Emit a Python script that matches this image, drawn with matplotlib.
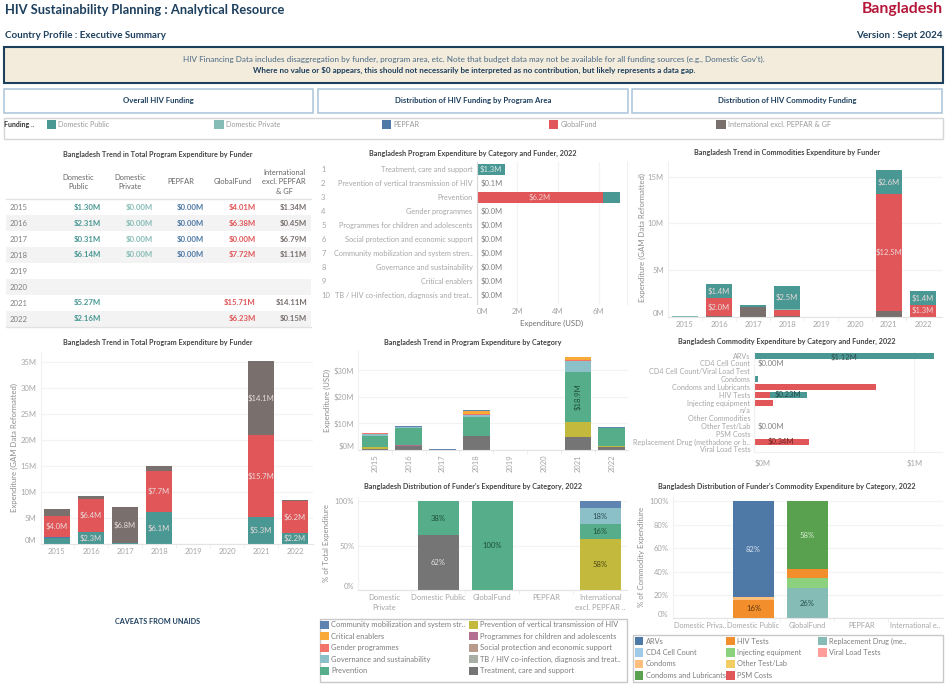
import matplotlib as mpl
mpl.use('Agg')
import matplotlib.pyplot as plt
from matplotlib.patches import Rectangle
import numpy as np

plt.rcParams['font.family'] = ['Lato', 'DejaVu Sans']

W, H = 948, 689

# funder colours
C_PUBLIC = "#499894"
C_PRIVATE = "#86BCB6"
C_PEPFAR = "#4E79A7"
C_GF = "#E15759"
C_INTL = "#79706E"

NAVY = "#1d3f5e"
TICK = "#a6a6a6"
GRID = "#f3f3f3"
LABEL = "#8c8c8c"
FS = 5.5  # tick and mark labels

YEARS = ["2015", "2016", "2017", "2018", "2019", "2020", "2021", "2022"]

# total program expenditure table (empty string = no value)
TABLE_PUBLIC = ["$1.30M", "$2.31M", "$0.31M", "$6.14M", "", "", "$5.27M", "$2.16M"]
TABLE_PRIVATE = ["$0.00M", "$0.00M", "$0.00M", "$0.00M", "", "", "", ""]
TABLE_PEPFAR = ["$0.00M", "$0.00M", "$0.00M", "$0.00M", "", "", "", ""]
TABLE_GF = ["$4.01M", "$6.38M", "$0.00M", "$7.72M", "", "", "$15.71M", "$6.23M"]
TABLE_INTL = ["$1.34M", "$0.45M", "$6.79M", "$1.11M", "", "", "$14.11M", "$0.15M"]

# total program expenditure chart, $M
PROG_PUBLIC = [1.30, 2.31, 0.31, 6.14, 0, 0, 5.27, 2.16]
PROG_PEPFAR = [0.15, 0.05, 0, 0.12, 0, 0, 0, 0]
PROG_GF = [4.01, 6.38, 0, 7.72, 0, 0, 15.71, 6.23]
PROG_INTL = [1.34, 0.45, 6.79, 1.11, 0, 0, 14.11, 0.15]

# commodities expenditure by funder, $M
COMM_INTL = [0, 0.05, 1.03, 0.05, 0, 0, 0.6, 0]
COMM_GF = [0, 2.0, 0, 0.65, 0, 0, 12.5, 1.3]
COMM_PRIVATE = [0.08, 0, 0, 0.1, 0, 0, 0, 0]
COMM_PUBLIC = [0, 1.4, 0.22, 2.5, 0, 0, 2.6, 1.4]

# program expenditure by category and funder, 2022
CATEGORIES = ["Treatment, care and support", "Prevention of vertical transmission of HIV", "Prevention",
              "Gender programmes", "Programmes for children and adolescents",
              "Social protection and economic support", "Community mobilization and system stren..",
              "Governance and sustainability", "Critical enablers", "TB / HIV co-infection, diagnosis and treat.."]
CAT_GF = [0.03, 0, 6.23, 0, 0, 0, 0, 0, 0, 0]
CAT_PUBLIC = [1.36, 0, 0.83, 0, 0, 0, 0, 0, 0, 0]
CAT_INTL = [0, 0.06, 0, 0.02, 0.02, 0.02, 0.02, 0.02, 0.02, 0.02]
CAT_LABELS = ["$1.3M", "$0.1M", "$6.2M", "$0.0M", "$0.0M", "$0.0M", "$0.0M", "$0.0M", "$0.0M", "$0.0M"]

# program expenditure trend by category, $M, stacked bottom to top
TREND_TREATMENT = [0.5, 1.5, 0.05, 5.3, 0, 0, 4.9, 1.1]
TREND_CHILDREN = [0, 0.4, 0, 0, 0, 0, 0, 0]
TREND_VERTICAL = [0.6, 0, 0, 0, 0, 0, 5.66, 0.35]
TREND_PREVENTION = [4.1, 6.5, 0, 7.2, 0, 0, 18.9, 6.8]
TREND_GOVERNANCE = [0.8, 0.25, 0, 0.75, 0, 0, 4.0, 0]
TREND_GENDER = [0.3, 0, 0, 0.25, 0, 0, 0.4, 0]
TREND_CRITICAL = [0, 0, 0, 1.25, 0, 0, 1.25, 0]
TREND_COMMUNITY = [0.25, 0.4, 0.4, 0.35, 0, 0, 0, 0.4]

C_COMMUNITY = "#5f84b1"
C_CRITICAL = "#f8a937"
C_GENDER = "#f1756b"
C_GOVERNANCE = "#8cc0c9"
C_PREVENTION = "#55ad89"
C_VERTICAL = "#c3b93c"
C_CHILDREN = "#b46f91"
C_SOCIAL = "#b89b8b"
C_TB = "#a8b0a5"
C_TREATMENT = "#757575"

# commodity expenditure by category, 2022, $M
COMMODITIES = ["ARVs", "CD4 Cell Count", "CD4 Cell Count/Viral Load Test", "Condoms", "Condoms and Lubricants",
               "HIV Tests", "Injecting equipment", "n/a", "Other Commodities", "Other Test/Lab", "PSM Costs",
               "Replacement Drug (methadone or b..", "Viral Load Tests"]
COMMOD_GF = [0, 0, 0, 0, 0.76, 0.096, 0.117, 0, 0, 0, 0, 0.34, 0]
COMMOD_PUBLIC = [1.12, 0, 0, 0.023, 0, 0.23, 0, 0, 0, 0, 0, 0, 0]
COMMOD_THIN = [0, 0.004, 0, 0, 0, 0, 0, 0, 0, 0.004, 0.004, 0, 0.004]

# funder distribution of program expenditure, %
DIST_FUNDERS = ["Domestic\nPrivate", "Domestic Public", "GlobalFund", "PEPFAR", "International\nexcl. PEPFAR .."]
DIST_TREATMENT = [0, 62, 0, 0, 0]
DIST_VERTICAL = [0, 0, 0, 0, 57.5]
DIST_PREVENTION = [0, 38, 100, 0, 16.6]
DIST_GOVERNANCE = [0, 0, 0, 0, 18]
DIST_COMMUNITY = [0, 0, 0, 0, 7.9]

# funder distribution of commodity expenditure, %
CDIST_FUNDERS = ["Domestic Priva..", "Domestic Public", "GlobalFund", "PEPFAR", "International e.."]
CDIST_REPLACE = [0, 0, 26, 0, 0]
CDIST_INJECT = [0, 0, 8.5, 0, 0]
CDIST_HIV = [0, 16, 7.7, 0, 0]
CDIST_CONDOMS = [0, 2, 0, 0, 0]
CDIST_LUB = [0, 0, 57.8, 0, 0]
CDIST_ARV = [0, 82, 0, 0, 0]

FUNDER_LEGEND = ["Domestic Public", "Domestic Private", "PEPFAR", "GlobalFund", "International excl. PEPFAR & GF"]
FUNDER_COLORS = [C_PUBLIC, C_PRIVATE, C_PEPFAR, C_GF, C_INTL]

fig = plt.figure(figsize=(W / 100, H / 100), dpi=100, facecolor="white")


def px_ax(left, top, right, bottom):
    ax = fig.add_axes([left / W, 1 - bottom / H, (right - left) / W, (bottom - top) / H])
    for s in ["top", "right"]:
        ax.spines[s].set_visible(False)
    ax.spines["left"].set_color("#f0f0f0")
    ax.spines["bottom"].set_color("#e4e4e4")
    ax.set_axisbelow(True)
    ax.tick_params(axis="both", length=0, labelsize=FS, labelcolor=TICK, pad=3)
    return ax


def stack(ax, series, colors, width, labels=None):
    # labels: minimum value that gets a text inside the segment
    bottom = np.zeros(len(series[0]))
    for vals, col in zip(series, colors):
        vals = np.array(vals, dtype=float)
        ax.bar(np.arange(len(vals)), vals, width, bottom=bottom, color=col)
        if labels is not None:
            for i, v in enumerate(vals):
                if v >= labels:
                    ax.text(i, bottom[i] + v / 2, f"${v:.1f}M", ha="center", va="center",
                            color="#ead9d9", fontsize=FS)
        bottom += vals


def cat_axis(ax, names):
    n = len(names)
    ax.set_xticks(range(n))
    ax.set_xticklabels(names, linespacing=1.5)
    ax.set_xticks(np.arange(0.5, n - 1), minor=True)
    ax.tick_params(axis="x", which="minor", length=3, color="#ececec")


def val_axis(ax, ticks, labels):
    ax.set_yticks(ticks)
    ax.set_yticklabels(labels)
    ax.get_yticklabels()[0].set_va("bottom")
    ax.grid(axis="y", color=GRID, linewidth=0.9)


# bottom left, total program expenditure
ax = px_ax(40.7, 351.7, 313, 544.3)
stack(ax, [PROG_PUBLIC, PROG_PEPFAR, PROG_GF, PROG_INTL], [C_PUBLIC, C_PEPFAR, C_GF, C_INTL], 0.765, labels=2.0)
ax.set_xlim(-0.48, 7.53)
ax.set_ylim(0, 36.9)
cat_axis(ax, YEARS)
val_axis(ax, [0, 5, 10, 15, 20, 25, 30, 35], ["0M", "5M", "10M", "15M", "20M", "25M", "30M", "35M"])

# top right, commodities by funder
ax = px_ax(668, 161.7, 942, 316.7)
stack(ax, [COMM_INTL, COMM_GF, COMM_PRIVATE, COMM_PUBLIC], [C_INTL, C_GF, C_PRIVATE, C_PUBLIC], 0.765, labels=1.2)
ax.set_xlim(-0.5, 7.56)
ax.set_ylim(0, 16.6)
cat_axis(ax, YEARS)
val_axis(ax, [0, 5, 10, 15], ["0M", "5M", "10M", "15M"])

# top middle, program expenditure by category
ax = px_ax(476.7, 161.7, 627.3, 304.3)
rows = np.arange(len(CATEGORIES))
ax.barh(rows, CAT_GF, 0.79, color=C_GF)
ax.barh(rows, CAT_PUBLIC, 0.79, left=CAT_GF, color=C_PUBLIC)
ax.barh(rows, CAT_INTL, 0.79, color=C_INTL)
for i, lab in enumerate(CAT_LABELS):
    if i == 0:
        ax.text(0.7, i, lab, ha="center", va="center", color="#d8e8e6", fontsize=FS)
    elif i == 2:
        ax.text(3.1, i, lab, ha="center", va="center", color="#f0c8c8", fontsize=FS)
    else:
        ax.text(0.17, i, lab, ha="left", va="center", color="#808080", fontsize=FS)
ax.set_xlim(0, 7.41)
ax.set_ylim(9.64, -0.54)
ax.set_yticks(rows)
ax.set_yticklabels(CATEGORIES, fontsize=5.3)
ax.set_xticks([0, 2, 4, 6])
ax.set_xticklabels(["0M", "2M", "4M", "6M"])
ax.get_xticklabels()[0].set_ha("left")
ax.grid(axis="x", color=GRID, linewidth=0.9)
ax.spines["bottom"].set_visible(False)
ax.spines["left"].set_color("#d8d8d8")
ax.spines["right"].set_visible(True)
ax.spines["right"].set_color("#f0f0f0")
# row numbers sit left of the category names
for i in rows:
    ax.annotate(str(i + 1), (0, i), xycoords=("axes fraction", "data"), xytext=(-112, 0),
                textcoords="offset points", ha="left", va="center", fontsize=FS, color=TICK)

# middle, trend by category
ax = px_ax(358.3, 351, 628.3, 450)
trend = [TREND_TREATMENT, TREND_CHILDREN, TREND_VERTICAL, TREND_PREVENTION, TREND_GOVERNANCE,
         TREND_GENDER, TREND_CRITICAL, TREND_COMMUNITY]
trend_colors = [C_TREATMENT, C_CHILDREN, C_VERTICAL, C_PREVENTION, C_GOVERNANCE, C_GENDER, C_CRITICAL, C_COMMUNITY]
stack(ax, trend, trend_colors, 0.79)
ax.set_xlim(-0.49, 7.49)
ax.set_ylim(0, 37.3)
cat_axis(ax, YEARS)
ax.tick_params(axis="x", which="major", labelrotation=90)
val_axis(ax, [0, 10, 20, 30], ["$0M", "$10M", "$20M", "$30M"])
ax.text(6, 20.1, "$18.9M", rotation=90, ha="center", va="center", color="#1f4f3c", fontsize=FS)

# right middle, commodities by category
ax = px_ax(754.3, 351.7, 941.7, 452.3)
rows = np.arange(len(COMMODITIES))
ax.barh(rows, COMMOD_GF, 0.77, color=C_GF)
ax.barh(rows, COMMOD_PUBLIC, 0.77, left=COMMOD_GF, color=C_PUBLIC)
ax.barh(rows, COMMOD_THIN, 0.77, color=C_INTL)
ax.text(0.56, 0.22, "$1.12M", ha="center", va="center", color="#33504e", fontsize=FS)
ax.text(0.21, 5, "$0.23M", ha="center", va="center", color="#214a47", fontsize=FS)
ax.text(0.165, 11, "$0.34M", ha="center", va="center", color="#6e2526", fontsize=FS)
ax.text(0.02, 1, "$0.00M", ha="left", va="center", color="#808080", fontsize=FS)
ax.text(0.02, 9, "$0.00M", ha="left", va="center", color="#808080", fontsize=FS)
ax.set_xlim(0, 1.17)
ax.set_ylim(12.38, -0.51)
ax.set_yticks(rows)
ax.set_yticklabels(COMMODITIES, fontsize=5.2)
ax.set_xticks([0, 1])
ax.set_xticklabels(["$0M", "$1M"])
ax.get_xticklabels()[0].set_ha("left")
ax.tick_params(axis="x", pad=5)
ax.grid(axis="x", color=GRID, linewidth=0.9)
ax.spines["bottom"].set_color("#f0f0f0")

# bottom middle, funder distribution
ax = px_ax(358.3, 496.7, 627.3, 590.3)
stack(ax, [DIST_TREATMENT, DIST_VERTICAL, DIST_PREVENTION, DIST_GOVERNANCE, DIST_COMMUNITY],
      [C_TREATMENT, C_VERTICAL, C_PREVENTION, C_GOVERNANCE, C_COMMUNITY], 0.76)
ax.set_xlim(-0.48, 4.5)
ax.set_ylim(0, 105)
cat_axis(ax, DIST_FUNDERS)
val_axis(ax, [0, 50, 100], ["0%", "50%", "100%"])
ax.text(1, 31, "62%", ha="center", va="center", color="#e0e0e0", fontsize=FS)
ax.text(1, 81, "38%", ha="center", va="center", color="#1f4f3c", fontsize=FS)
ax.text(2, 50, "100%", ha="center", va="center", color="#1f4f3c", fontsize=FS)
ax.text(4, 29, "58%", ha="center", va="center", color="#4f4a16", fontsize=FS)
ax.text(4, 66, "16%", ha="center", va="center", color="#1f4f3c", fontsize=FS)
ax.text(4, 83, "18%", ha="center", va="center", color="#2f5056", fontsize=FS)

# bottom right, funder commodity distribution
ax = px_ax(672.7, 496.7, 942.7, 618.3)
stack(ax, [CDIST_REPLACE, CDIST_INJECT, CDIST_HIV, CDIST_CONDOMS, CDIST_LUB, CDIST_ARV],
      [C_PRIVATE, "#8CD17D", "#F28E2B", "#FFBE7D", "#59A14F", C_PEPFAR], 0.76)
ax.set_xlim(-0.5, 4.51)
ax.set_ylim(0, 104)
cat_axis(ax, CDIST_FUNDERS)
for lab in ax.get_xticklabels():
    lab.set_fontsize(5.3)
val_axis(ax, [0, 20, 40, 60, 80, 100], ["0%", "20%", "40%", "60%", "80%", "100%"])
ax.text(1, 59, "82%", ha="center", va="center", color="#d6deea", fontsize=FS)
ax.text(1, 8, "16%", ha="center", va="center", color="#5e3410", fontsize=FS)
ax.text(2, 13, "26%", ha="center", va="center", color="#26504c", fontsize=FS)
ax.text(2, 71, "58%", ha="center", va="center", color="#d8ecd4", fontsize=FS)

# overlay in pixel coordinates for header, table, titles, legends
ov = fig.add_axes([0, 0, 1, 1], zorder=10)
ov.set_xlim(0, W)
ov.set_ylim(H, 0)
ov.axis("off")
ov.patch.set_alpha(0)


def box(x0, y0, x1, y1, face="white", edge="#d0d0d0", lw=1.0, z=1):
    ov.add_patch(Rectangle((x0, y0), x1 - x0, y1 - y0, facecolor=face, edgecolor=edge, linewidth=lw, zorder=z))


def txt(x, y, s, size=6.5, color="#555555", ha="left", weight="normal", **kw):
    ov.text(x, y, s, fontsize=size, color=color, ha=ha, va="center", fontweight=weight, zorder=5, **kw)


txt(5, 10, "HIV Sustainability Planning : Analytical Resource", 9.3, NAVY, weight="bold")
txt(943, 9, "Bangladesh", 11.3, "#b5173a", ha="right", weight="bold")
txt(5, 35, "Country Profile : Executive Summary", 7.0, NAVY, weight="bold")
txt(943, 35, "Version : Sept 2024", 7.1, NAVY, ha="right", weight="bold")

box(4, 47, 943, 83, face="#f3ecdc", edge=NAVY, lw=1.5)
txt(474, 59.5, "HIV Financing Data includes disaggregation by funder, program area, etc. Note that budget data may not be "
    "available for all funding sources (e.g., Domestic Gov't).", 5.85, "#4a6a84", ha="center")
txt(474, 70.5, "Where no value or $0 appears, this should not necessarily be interpreted as no contribution, but likely "
    "represents a data gap.", 5.75, NAVY, ha="center", weight="bold")

for x0, x1, s in [(4, 313, "Overall HIV Funding"), (318, 628, "Distribution of HIV Funding by Program Area"),
                  (632, 942, "Distribution of HIV Commodity Funding")]:
    box(x0, 89, x1, 113, edge="#a9c4da", lw=1.1)
    txt((x0 + x1) / 2, 101, s, 5.6, NAVY, ha="center", weight="bold")

box(4, 118, 943, 139, edge="#d6d6d6", lw=1.0)
txt(4, 124.5, "Funding ..", 5.0, "#333333", weight="bold")
for i, (name, col) in enumerate(zip(FUNDER_LEGEND, FUNDER_COLORS)):
    x = 47 + i * 167.3
    box(x, 120, x + 9.5, 129, face=col, edge=col, lw=0)
    txt(x + 11.5, 124.5, name, 5.2, "#9a9a9a")

# chart titles
for x, y, s in [(158, 155, "Bangladesh Trend in Total Program Expenditure by Funder"),
                (473, 153, "Bangladesh Program Expenditure by Category and Funder, 2022"),
                (787, 153, "Bangladesh Trend in Commodities Expenditure by Funder"),
                (158, 342, "Bangladesh Trend in Total Program Expenditure by Funder"),
                (473, 342, "Bangladesh Trend in Program Expenditure by Category"),
                (787, 341, "Bangladesh Commodity Expenditure by Category and Funder, 2022"),
                (473, 486, "Bangladesh Distribution of Funder's Expenditure by Category, 2022"),
                (787, 486, "Bangladesh Distribution of Funder's Commodity Expenditure by Category, 2022")]:
    txt(x, y, s, 5.2, "#444444", ha="center", weight="bold")

# axis titles
for x, y, s in [(14, 447, "Expenditure (GAM Data Reformatted)"), (642, 238, "Expenditure (GAM Data Reformatted)"),
                (327, 400, "Expenditure (USD)"), (327, 543, "% of Total Expenditure"),
                (642, 557, "% of Commodity Expenditure")]:
    ov.text(x, y, s, fontsize=5.6, color=LABEL, rotation=90, ha="center", va="center", zorder=5)
txt(552, 323.7, "Expenditure (USD)", 5.6, "#707070", ha="center")

# table
rows_top = 199.3
row_h = 15.9
for i in range(8):
    if i % 2 == 1:
        ov.add_patch(Rectangle((6, rows_top + i * row_h), 305, row_h, facecolor="#f3f3f3", edgecolor="none", zorder=1))
ov.plot([6, 311], [rows_top, rows_top], color="#e2e2e2", linewidth=1, zorder=2)
ov.plot([6, 311], [rows_top + 8 * row_h] * 2, color="#e2e2e2", linewidth=1, zorder=2)
for x, s in [(78.3, "Domestic\nPublic"), (130, "Domestic\nPrivate"), (181.3, "PEPFAR"), (232.3, "GlobalFund"),
             (284, "International\nexcl. PEPFAR\n& GF")]:
    ov.text(x, 182, s, fontsize=5.4, color="#666666", ha="center", va="center", linespacing=1.45, zorder=5)
cols = [(101, TABLE_PUBLIC, C_PUBLIC), (152.7, TABLE_PRIVATE, C_PRIVATE), (204, TABLE_PEPFAR, C_PEPFAR),
        (255.7, TABLE_GF, C_GF), (307.3, TABLE_INTL, C_INTL)]
for i, year in enumerate(YEARS):
    y = rows_top + (i + 0.5) * row_h
    txt(10, y + 0.5, year, 5.6, "#808080")
    for x, vals, col in cols:
        if vals[i]:
            txt(x, y, vals[i], 5.6, col, ha="right", weight="bold")

txt(158, 621, "CAVEATS FROM UNAIDS", 5.2, NAVY, ha="center", weight="bold")

# legend, program categories
box(320, 619, 627.3, 682.3, edge="#c8c8c8", lw=1.0)
LEFT_LEGEND = [("Community mobilization and system str..", C_COMMUNITY), ("Critical enablers", C_CRITICAL),
               ("Gender programmes", C_GENDER), ("Governance and sustainability", C_GOVERNANCE),
               ("Prevention", C_PREVENTION)]
RIGHT_LEGEND = [("Prevention of vertical transmission of HIV", C_VERTICAL),
                ("Programmes for children and adolescents", C_CHILDREN),
                ("Social protection and economic support", C_SOCIAL),
                ("TB / HIV co-infection, diagnosis and treat..", C_TB), ("Treatment, care and support", C_TREATMENT)]
for x, items in [(320, LEFT_LEGEND), (469, RIGHT_LEGEND)]:
    for i, (name, col) in enumerate(items):
        y = 624.7 + i * 11.5
        box(x, y - 4.2, x + 9, y + 4.2, face=col, edge=col, lw=0, z=2)
        txt(x + 11, y, name, 5.4, "#7d7d7d")

# legend, commodity categories
box(632.7, 635, 942.7, 682.3, edge="#c8c8c8", lw=1.0)
COMM_LEGEND = [[("ARVs", C_PEPFAR), ("CD4 Cell Count", "#A0CBE8"), ("Condoms", "#FFBE7D"),
                ("Condoms and Lubricants", "#59A14F")],
               [("HIV Tests", "#F28E2B"), ("Injecting equipment", "#8CD17D"), ("Other Test/Lab", "#F1CE63"),
                ("PSM Costs", C_GF)],
               [("Replacement Drug (me..", C_PRIVATE), ("Viral Load Tests", "#FF9D9A")]]
for x, items in zip([634.7, 726.5, 818.3], COMM_LEGEND):
    for i, (name, col) in enumerate(items):
        y = 641 + i * 11.5
        box(x, y - 4.2, x + 8.7, y + 4.2, face=col, edge=col, lw=0, z=2)
        txt(x + 11, y, name, 5.3, "#7d7d7d")

fig.savefig("out.png", dpi=100)
